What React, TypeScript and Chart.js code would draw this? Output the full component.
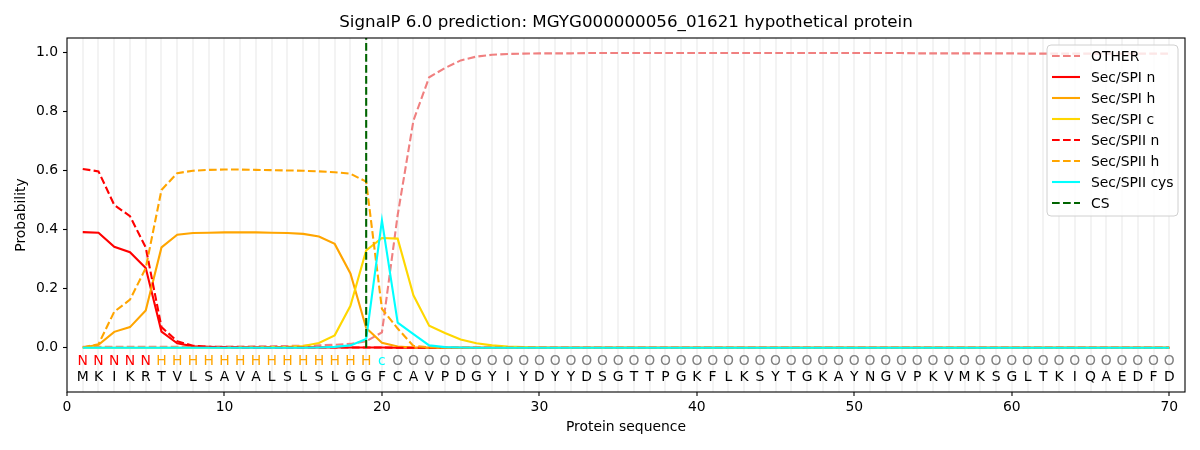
import React, { useEffect, useRef } from 'react';
import { Chart, registerables } from 'chart.js';
Chart.register(...registerables);

const TITLE = 'SignalP 6.0 prediction: MGYG000000056_01621 hypothetical protein';
const X_TITLE = 'Protein sequence';
const Y_TITLE = 'Probability';

const sequence = 'MKIKRTVLSAVALSLSLGGFCAVPDGYIYDYYDSGTTPGKFLKSYTGKAYNGVPKVMKSGLTKIQAEDFD'.split('');
const regionLabels = 'NNNNNHHHHHHHHHHHHHHcOOOOOOOOOOOOOOOOOOOOOOOOOOOOOOOOOOOOOOOOOOOOOOOOOO'.split('');
const positions = sequence.map((_, i) => i + 1);
const csPosition = 19;

const xTicks = [0, 10, 20, 30, 40, 50, 60, 70];
const yTicks = [0, 0.2, 0.4, 0.6, 0.8, 1.0];

const other = [0.003, 0.003, 0.003, 0.003, 0.003, 0.003, 0.003, 0.003, 0.004, 0.004,
  0.004, 0.005, 0.005, 0.006, 0.007, 0.008, 0.010, 0.013, 0.022, 0.052,
  0.450, 0.770, 0.917, 0.948, 0.974, 0.987, 0.993, 0.996, 0.997, 0.998,
  0.998, 0.998, 0.999, 0.999, 0.999, 0.999, 0.999, 0.999, 0.999, 0.999,
  0.999, 0.999, 0.999, 0.999, 0.999, 0.999, 0.999, 0.999, 0.999, 0.999,
  0.999, 0.999, 0.999, 0.998, 0.998, 0.998, 0.998, 0.998, 0.998, 0.998,
  0.997, 0.997, 0.997, 0.997, 0.997, 0.997, 0.997, 0.997, 0.997, 0.997];

const spiN = [0.392, 0.390, 0.342, 0.324, 0.270, 0.055, 0.015, 0.005, 0.002, 0.001,
  0.001, 0.001, 0.001, 0.001, 0.001, 0.001, 0.001, 0.001, 0.001, 0.001,
  0, 0, 0, 0, 0, 0, 0, 0, 0, 0,
  0, 0, 0, 0, 0, 0, 0, 0, 0, 0,
  0, 0, 0, 0, 0, 0, 0, 0, 0, 0,
  0, 0, 0, 0, 0, 0, 0, 0, 0, 0,
  0, 0, 0, 0, 0, 0, 0, 0, 0, 0];

const spiH = [0.001, 0.010, 0.054, 0.070, 0.126, 0.340, 0.383, 0.389, 0.390, 0.391,
  0.391, 0.391, 0.390, 0.389, 0.386, 0.377, 0.352, 0.252, 0.067, 0.017,
  0.004, 0.001, 0, 0, 0, 0, 0, 0, 0, 0,
  0, 0, 0, 0, 0, 0, 0, 0, 0, 0,
  0, 0, 0, 0, 0, 0, 0, 0, 0, 0,
  0, 0, 0, 0, 0, 0, 0, 0, 0, 0,
  0, 0, 0, 0, 0, 0, 0, 0, 0, 0];

const spiC = [0, 0, 0, 0, 0, 0, 0, 0, 0, 0,
  0.001, 0.001, 0.002, 0.003, 0.006, 0.016, 0.042, 0.142, 0.330, 0.372,
  0.370, 0.178, 0.075, 0.050, 0.028, 0.015, 0.008, 0.004, 0.002, 0.001,
  0, 0, 0, 0, 0, 0, 0, 0, 0, 0,
  0, 0, 0, 0, 0, 0, 0, 0, 0, 0,
  0, 0, 0, 0, 0, 0, 0, 0, 0, 0,
  0, 0, 0, 0, 0, 0, 0, 0, 0, 0];

const spiiN = [0.606, 0.598, 0.484, 0.446, 0.340, 0.070, 0.022, 0.007, 0.003, 0.002,
  0.001, 0.001, 0.001, 0.001, 0.001, 0.001, 0.001, 0.001, 0.001, 0.001,
  0, 0, 0, 0, 0, 0, 0, 0, 0, 0,
  0, 0, 0, 0, 0, 0, 0, 0, 0, 0,
  0, 0, 0, 0, 0, 0, 0, 0, 0, 0,
  0, 0, 0, 0, 0, 0, 0, 0, 0, 0,
  0, 0, 0, 0, 0, 0, 0, 0, 0, 0];

const spiiH = [0.001, 0.012, 0.122, 0.163, 0.270, 0.535, 0.592, 0.600, 0.603, 0.604,
  0.604, 0.603, 0.602, 0.601, 0.600, 0.598, 0.595, 0.590, 0.563, 0.132,
  0.065, 0.006, 0.002, 0, 0, 0, 0, 0, 0, 0,
  0, 0, 0, 0, 0, 0, 0, 0, 0, 0,
  0, 0, 0, 0, 0, 0, 0, 0, 0, 0,
  0, 0, 0, 0, 0, 0, 0, 0, 0, 0,
  0, 0, 0, 0, 0, 0, 0, 0, 0, 0];

const spiiCys = [0, 0, 0, 0, 0, 0, 0, 0, 0, 0,
  0, 0, 0, 0, 0, 0.001, 0.003, 0.008, 0.030, 0.432,
  0.085, 0.046, 0.008, 0.002, 0.001, 0, 0, 0, 0, 0,
  0, 0, 0, 0, 0, 0, 0, 0, 0, 0,
  0, 0, 0, 0, 0, 0, 0, 0, 0, 0,
  0, 0, 0, 0, 0, 0, 0, 0, 0, 0,
  0, 0, 0, 0, 0, 0, 0, 0, 0, 0];

const FONT = '"DejaVu Sans", sans-serif';
const DASH = [7.7, 3.3];
const LW = 2.1;

const seriesDefs = [
  { label: 'OTHER', values: other, color: '#f08080', dash: DASH },
  { label: 'Sec/SPI n', values: spiN, color: '#ff0000', dash: [] as number[] },
  { label: 'Sec/SPI h', values: spiH, color: '#ffa500', dash: [] as number[] },
  { label: 'Sec/SPI c', values: spiC, color: '#ffd700', dash: [] as number[] },
  { label: 'Sec/SPII n', values: spiiN, color: '#ff0000', dash: DASH },
  { label: 'Sec/SPII h', values: spiiH, color: '#ffa500', dash: DASH },
  { label: 'Sec/SPII cys', values: spiiCys, color: '#00ffff', dash: [] as number[] },
];

const regionColor: Record<string, string> = { N: '#ff0000', H: '#ffa500', c: '#00ffff', O: '#808080' };

export default function App() {
  const ref = useRef<HTMLCanvasElement | null>(null);

  useEffect(() => {
    if (!ref.current) return;
    const datasets: any[] = seriesDefs.map((s, i) => ({
      label: s.label,
      data: positions.map((p, j) => ({ x: p, y: s.values[j] })),
      borderColor: s.color,
      backgroundColor: s.color,
      borderDash: s.dash,
      borderWidth: LW,
      pointRadius: 0,
      tension: 0,
      fill: false,
      order: 20 - i,
    }));
    datasets.push({
      label: 'CS',
      data: [{ x: csPosition, y: 0 }, { x: csPosition, y: 1.05 }],
      borderColor: '#006400',
      backgroundColor: '#006400',
      borderDash: DASH,
      borderWidth: LW,
      pointRadius: 0,
      fill: false,
      order: 1,
    });

    const decor = {
      id: 'decor',
      afterDraw(chart: any) {
        const ctx = chart.ctx;
        const a = chart.chartArea;
        const xs = chart.scales.x;
        const ys = chart.scales.y;
        ctx.save();
        // frame
        ctx.strokeStyle = '#000';
        ctx.lineWidth = 1.1;
        ctx.setLineDash([]);
        ctx.strokeRect(a.left, a.top, a.right - a.left, a.bottom - a.top);
        // title
        ctx.fillStyle = '#000';
        ctx.textAlign = 'center';
        ctx.textBaseline = 'middle';
        ctx.font = `16.7px ${FONT}`;
        const cx = (a.left + a.right) / 2;
        ctx.fillText(TITLE, cx, a.top - 15);
        ctx.font = `13.9px ${FONT}`;
        ctx.fillText(X_TITLE, cx, a.bottom + 35);
        ctx.save();
        ctx.translate(21, (a.top + a.bottom) / 2);
        ctx.rotate(-Math.PI / 2);
        ctx.fillText(Y_TITLE, 0, 0);
        ctx.restore();
        // sequence letters
        const yLab = ys.getPixelForValue(-0.045);
        const ySeq = ys.getPixelForValue(-0.099);
        positions.forEach((p, i) => {
          const px = xs.getPixelForValue(p);
          ctx.fillStyle = regionColor[regionLabels[i]] || '#808080';
          ctx.fillText(regionLabels[i], px, yLab);
          ctx.fillStyle = '#000';
          ctx.fillText(sequence[i], px, ySeq);
        });
        // legend
        const bx = 1047, by = 45, bw = 131, bh = 171, r = 4;
        ctx.beginPath();
        ctx.moveTo(bx + r, by);
        ctx.arcTo(bx + bw, by, bx + bw, by + bh, r);
        ctx.arcTo(bx + bw, by + bh, bx, by + bh, r);
        ctx.arcTo(bx, by + bh, bx, by, r);
        ctx.arcTo(bx, by, bx + bw, by, r);
        ctx.closePath();
        ctx.fillStyle = 'rgba(255,255,255,0.8)';
        ctx.fill();
        ctx.strokeStyle = '#d0d0d0';
        ctx.lineWidth = 1;
        ctx.stroke();
        ctx.textAlign = 'left';
        chart.data.datasets.forEach((d: any, i: number) => {
          const yy = by + 11 + i * 21;
          ctx.beginPath();
          ctx.setLineDash(d.borderDash || []);
          ctx.strokeStyle = d.borderColor;
          ctx.lineWidth = LW;
          ctx.moveTo(bx + 5, yy);
          ctx.lineTo(bx + 33, yy);
          ctx.stroke();
          ctx.setLineDash([]);
          ctx.fillStyle = '#000';
          ctx.fillText(d.label, bx + 44, yy + 1);
        });
        ctx.restore();
      },
    };

    const chart = new Chart(ref.current, {
      type: 'line',
      data: { datasets },
      plugins: [decor],
      options: {
        animation: false,
        responsive: false,
        devicePixelRatio: 1,
        layout: { padding: { top: 38, right: 15, left: 0, bottom: 0 } },
        plugins: { legend: { display: false }, tooltip: { enabled: false }, title: { display: false } },
        scales: {
          x: {
            type: 'linear',
            min: 0,
            max: 71,
            afterFit: (s: any) => { s.height = 58; },
            afterBuildTicks: (s: any) => {
              const t: any[] = [];
              for (let v = 0; v <= 71; v++) t.push({ value: v });
              s.ticks = t;
            },
            ticks: {
              autoSkip: false,
              maxRotation: 0,
              padding: 3,
              color: '#000',
              font: { family: FONT, size: 13.9 },
              callback: (v: any) => (xTicks.includes(Number(v)) ? String(v) : ''),
            },
            grid: {
              color: (c: any) => (c.tick && c.tick.value >= 1 && c.tick.value <= 70 ? '#f3f3f3' : 'rgba(0,0,0,0)'),
              lineWidth: 2,
              drawTicks: true,
              tickLength: 4,
              tickWidth: 1.1,
              tickColor: (c: any) => (c.tick && xTicks.includes(c.tick.value) ? '#000' : 'rgba(0,0,0,0)'),
            },
            border: { display: false },
          },
          y: {
            type: 'linear',
            min: -0.15,
            max: 1.05,
            afterFit: (s: any) => { s.width = 67; },
            afterBuildTicks: (s: any) => { s.ticks = yTicks.map((v) => ({ value: v })); },
            ticks: {
              padding: 5,
              color: '#000',
              font: { family: FONT, size: 13.9 },
              callback: (v: any) => Number(v).toFixed(1),
            },
            grid: { drawOnChartArea: false, drawTicks: true, tickLength: 4, tickColor: '#000', tickWidth: 1.1 },
            border: { display: false },
          },
        },
      } as any,
    });
    return () => chart.destroy();
  }, []);

  return (
    <div style={{ position: 'absolute', left: 0, top: 0, width: 1200, height: 450, background: '#fff' }}>
      <canvas ref={ref} width={1200} height={450} />
    </div>
  );
}
